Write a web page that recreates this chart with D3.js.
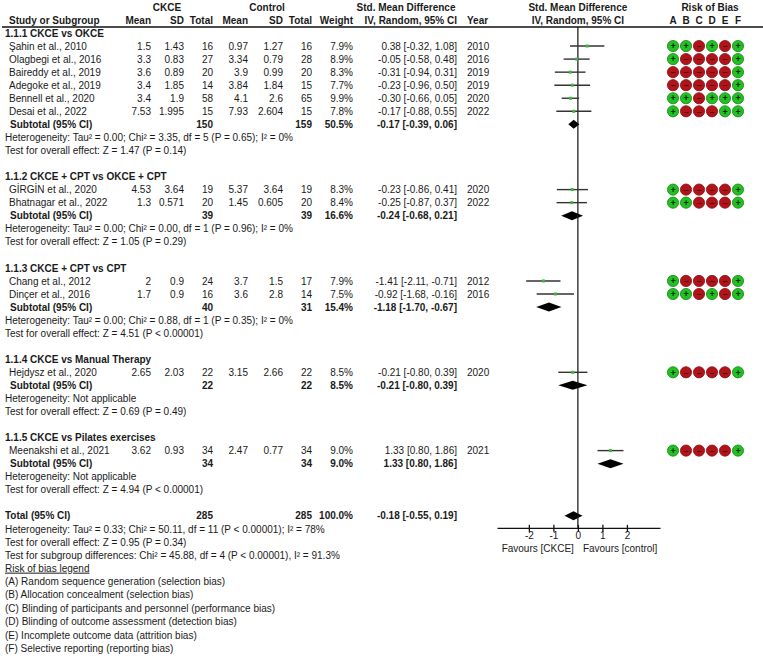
<!DOCTYPE html>
<html>
<head>
<meta charset="utf-8">
<script src="https://cdn.jsdelivr.net/npm/d3@7"></script>
<style>
  body { margin: 0; background: #fff; }
  text { font-family: "Liberation Sans", Arial, sans-serif; font-size: 10px; fill: #1a1a1a; }
  .b { font-weight: bold; }
</style>
</head>
<body>
<script>
// data
var groupLabels = ["1.1.1 CKCE vs OKCE", "1.1.2 CKCE + CPT vs OKCE + CPT", "1.1.3 CKCE + CPT vs CPT",
  "1.1.4 CKCE vs Manual Therapy", "1.1.5 CKCE vs Pilates exercises"];
var groupSizes = [6, 2, 2, 1, 1];

var studies = ["Şahin et al., 2010", "Olagbegi et al., 2016", "Baireddy et al., 2019", "Adegoke et al., 2019",
  "Bennell et al., 2020", "Desai et al., 2022", "GİRGİN et al., 2020", "Bhatnagar et al., 2022",
  "Chang et al., 2012", "Dinçer et al., 2016", "Hejdysz et al., 2020", "Meenakshi et al., 2021"];
var ckceMean = [1.5, 3.3, 3.6, 3.4, 3.4, 7.53, 4.53, 1.3, 2, 1.7, 2.65, 3.62];
var ckceSD = [1.43, 0.83, 0.89, 1.85, 1.9, 1.995, 3.64, 0.571, 0.9, 0.9, 2.03, 0.93];
var ckceN = [16, 27, 20, 14, 58, 15, 19, 20, 24, 16, 22, 34];
var ctrlMean = [0.97, 3.34, 3.9, 3.84, 4.1, 7.93, 5.37, 1.45, 3.7, 3.6, 3.15, 2.47];
var ctrlSD = [1.27, 0.79, 0.99, 1.84, 2.6, 2.604, 3.64, 0.605, 1.5, 2.8, 2.66, 0.77];
var ctrlN = [16, 28, 20, 15, 65, 15, 19, 20, 17, 14, 22, 34];
var weights = [7.9, 8.9, 8.3, 7.7, 9.9, 7.8, 8.3, 8.4, 7.9, 7.5, 8.5, 9.0];
var smd = [0.38, -0.05, -0.31, -0.23, -0.30, -0.17, -0.23, -0.25, -1.41, -0.92, -0.21, 1.33];
var ciLow = [-0.32, -0.58, -0.94, -0.96, -0.66, -0.88, -0.86, -0.87, -2.11, -1.68, -0.80, 0.80];
var ciHigh = [1.08, 0.48, 0.31, 0.50, 0.05, 0.55, 0.41, 0.37, -0.71, -0.16, 0.39, 1.86];
var years = [2010, 2016, 2019, 2019, 2020, 2022, 2020, 2022, 2012, 2016, 2020, 2021];
var rob = ["++-+-+", "+----+", "-----+", "-----+", "++-+++", "+---++",
  "+----+", "++---+", "+----+", "++-+-+", "+----+", "+----+"];

var subN1 = [150, 39, 40, 22, 34];
var subN2 = [159, 39, 31, 22, 34];
var subWeight = [50.5, 16.6, 15.4, 8.5, 9.0];
var subSmd = [-0.17, -0.24, -1.18, -0.21, 1.33];
var subLow = [-0.39, -0.68, -1.70, -0.80, 0.80];
var subHigh = [0.06, 0.21, -0.67, 0.39, 1.86];
var hetText = [
  "Heterogeneity: Tau² = 0.00; Chi² = 3.35, df = 5 (P = 0.65); I² = 0%",
  "Heterogeneity: Tau² = 0.00; Chi² = 0.00, df = 1 (P = 0.96); I² = 0%",
  "Heterogeneity: Tau² = 0.00; Chi² = 0.88, df = 1 (P = 0.35); I² = 0%",
  "Heterogeneity: Not applicable",
  "Heterogeneity: Not applicable"];
var testText = [
  "Test for overall effect: Z = 1.47 (P = 0.14)",
  "Test for overall effect: Z = 1.05 (P = 0.29)",
  "Test for overall effect: Z = 4.51 (P < 0.00001)",
  "Test for overall effect: Z = 0.69 (P = 0.49)",
  "Test for overall effect: Z = 4.94 (P < 0.00001)"];

var totalN = [285, 285];
var totalWeight = 100.0;
var totalEst = [-0.18, -0.55, 0.19];
var totalText = [
  "Heterogeneity: Tau² = 0.33; Chi² = 50.11, df = 11 (P < 0.00001); I² = 78%",
  "Test for overall effect: Z = 0.95 (P = 0.34)",
  "Test for subgroup differences: Chi² = 45.88, df = 4 (P < 0.00001), I² = 91.3%"];
var robLetters = ["A", "B", "C", "D", "E", "F"];
var legendText = [
  "(A) Random sequence generation (selection bias)",
  "(B) Allocation concealment (selection bias)",
  "(C) Blinding of participants and personnel (performance bias)",
  "(D) Blinding of outcome assessment (detection bias)",
  "(E) Incomplete outcome data (attrition bias)",
  "(F) Selective reporting (reporting bias)"];
var xTicks = [-2, -1, 0, 1, 2];

// setup
var width = 763, height = 661;
var svg = d3.select('body').append('svg')
  .attr('width', width)
  .attr('height', height);
svg.append('rect').attr('width', width).attr('height', height).attr('fill', '#fff');

// row index -> vertical centre
var rowY = d3.scaleLinear().domain([0, 1]).range([33, 46.05]);
var x = d3.scaleLinear().domain([-3.3, 3.35]).range([497, 660]);
var robX = d3.scaleBand().domain(robLetters).range([666.5, 744.5]);

var col = { mean1: 151, sd1: 184, n1: 213, mean2: 248, sd2: 283, n2: 312, w: 353, ci: 457, year: 467 };

function txt(xp, row, s, anchor, bold) {
  return svg.append('text')
    .attr('x', xp)
    .attr('y', rowY(row) + 3.6)
    .attr('text-anchor', anchor || 'start')
    .attr('class', bold ? 'b' : null)
    .text(s);
}
function fmtCI(e, l, h) {
  return e.toFixed(2) + " [" + l.toFixed(2) + ", " + h.toFixed(2) + "]";
}
function diamond(row, e, l, h) {
  var y = rowY(row);
  svg.append('path')
    .attr('d', 'M' + x(l) + ',' + y + 'L' + x(e) + ',' + (y - 4.5) + 'L' + x(h) + ',' + y + 'L' + x(e) + ',' + (y + 4.5) + 'Z')
    .attr('fill', '#000');
}

// header
svg.append('text').attr('x', 167).attr('y', 11).attr('text-anchor', 'middle').attr('class', 'b').text('CKCE');
svg.append('text').attr('x', 267).attr('y', 11).attr('text-anchor', 'middle').attr('class', 'b').text('Control');
svg.append('text').attr('x', 406).attr('y', 11).attr('text-anchor', 'middle').attr('class', 'b').text('Std. Mean Difference');
svg.append('text').attr('x', x(0)).attr('y', 11).attr('text-anchor', 'middle').attr('class', 'b').text('Std. Mean Difference');
svg.append('text').attr('x', 710).attr('y', 11).attr('text-anchor', 'middle').attr('class', 'b').text('Risk of Bias');

var hy = 23.5;
svg.append('text').attr('x', 9).attr('y', hy).attr('class', 'b').text('Study or Subgroup');
[['Mean', col.mean1], ['SD', col.sd1], ['Total', col.n1], ['Mean', col.mean2], ['SD', col.sd2],
 ['Total', col.n2], ['Weight', col.w], ['IV, Random, 95% CI', col.ci]].forEach(function(h) {
  svg.append('text').attr('x', h[1]).attr('y', hy).attr('text-anchor', 'end').attr('class', 'b').text(h[0]);
});
svg.append('text').attr('x', col.year).attr('y', hy).attr('class', 'b').text('Year');
svg.append('text').attr('x', x(0)).attr('y', hy).attr('text-anchor', 'middle').attr('class', 'b').text('IV, Random, 95% CI');
robLetters.forEach(function(l) {
  svg.append('text').attr('x', robX(l) + robX.bandwidth() / 2).attr('y', hy)
    .attr('text-anchor', 'middle').attr('class', 'b').text(l);
});
svg.append('line').attr('x1', 2).attr('x2', width).attr('y1', 27).attr('y2', 27)
  .attr('stroke', '#111').attr('stroke-width', 1.3);

// body rows
var r = 0, s = 0;
var studyRows = [];
groupLabels.forEach(function(g, gi) {
  txt(5, r, g, 'start', true);
  var first = r + 1;
  for (var k = 0; k < groupSizes[gi]; k++) {
    r++;
    studyRows.push(r);
    txt(9, r, studies[s]);
    txt(col.mean1, r, ckceMean[s], 'end');
    txt(col.sd1, r, ckceSD[s], 'end');
    txt(col.n1, r, ckceN[s], 'end');
    txt(col.mean2, r, ctrlMean[s], 'end');
    txt(col.sd2, r, ctrlSD[s], 'end');
    txt(col.n2, r, ctrlN[s], 'end');
    txt(col.w, r, weights[s].toFixed(1) + '%', 'end');
    txt(col.ci, r, fmtCI(smd[s], ciLow[s], ciHigh[s]), 'end');
    txt(col.year, r, years[s]);
    s++;
  }
  // faint panel behind risk of bias circles
  svg.insert('rect', ':first-child').attr('x', 662).attr('y', rowY(first) - 9)
    .attr('width', 86).attr('height', rowY(r) - rowY(first) + 18).attr('fill', '#f6f6f6');
  svg.insert('rect', ':first-child').attr('width', width).attr('height', height).attr('fill', '#fff');
  r++;
  txt(10, r, 'Subtotal (95% CI)', 'start', true);
  txt(col.n1, r, subN1[gi], 'end', true);
  txt(col.n2, r, subN2[gi], 'end', true);
  txt(col.w, r, subWeight[gi].toFixed(1) + '%', 'end', true);
  txt(col.ci, r, fmtCI(subSmd[gi], subLow[gi], subHigh[gi]), 'end', true);
  diamond(r, subSmd[gi], subLow[gi], subHigh[gi]);
  r++;
  txt(5, r, hetText[gi]);
  r++;
  txt(5, r, testText[gi]);
  r += 2;
});

// total
txt(5, r, 'Total (95% CI)', 'start', true);
txt(col.n1, r, totalN[0], 'end', true);
txt(col.n2, r, totalN[1], 'end', true);
txt(col.w, r, totalWeight.toFixed(1) + '%', 'end', true);
txt(col.ci, r, fmtCI(totalEst[0], totalEst[1], totalEst[2]), 'end', true);
diamond(r, totalEst[0], totalEst[1], totalEst[2]);
var axisY = rowY(r) + 12;
totalText.forEach(function(t, i) { txt(5, r + 1 + i, t); });
var legY = rowY(r + 4) + 3.6;
svg.append('text').attr('x', 5).attr('y', legY).attr('text-decoration', 'underline').text('Risk of bias legend');
legendText.forEach(function(t, i) {
  svg.append('text').attr('x', 5).attr('y', legY + 13.4 * (i + 1)).text(t);
});

// forest marks
svg.append('line').attr('x1', x(0)).attr('x2', x(0)).attr('y1', 27).attr('y2', axisY)
  .attr('stroke', '#111').attr('stroke-width', 1.2);

svg.selectAll('.ci').data(smd).enter().append('line')
  .attr('class', 'ci')
  .attr('x1', function(d, i) { return x(ciLow[i]); })
  .attr('x2', function(d, i) { return x(ciHigh[i]); })
  .attr('y1', function(d, i) { return rowY(studyRows[i]); })
  .attr('y2', function(d, i) { return rowY(studyRows[i]); })
  .attr('stroke', '#333').attr('stroke-width', 1.4);

svg.selectAll('.pt').data(smd).enter().append('rect')
  .attr('class', 'pt')
  .attr('x', function(d) { return x(d) - 1.5; })
  .attr('y', function(d, i) { return rowY(studyRows[i]) - 1.5; })
  .attr('width', 3).attr('height', 3)
  .attr('fill', '#3cb43c');

// axis
var axis = d3.axisBottom(x).tickValues(xTicks).tickSizeOuter(0).tickSizeInner(4).tickPadding(0)
  .tickFormat(d3.format('d'));
var ax = svg.append('g')
  .attr('transform', 'translate(0,' + axisY + ')')
  .call(axis);
ax.select('.domain').attr('stroke', '#111').attr('stroke-width', 1.3);
ax.selectAll('.tick line').attr('y1', -3).attr('y2', 4).attr('stroke', '#111').attr('stroke-width', 1.3);
ax.selectAll('.tick text').attr('font-family', '"Liberation Sans", Arial, sans-serif').attr('font-size', 10)
  .attr('y', 4).attr('fill', '#1a1a1a').text(function(d) { return d < 0 ? '-' + Math.abs(d) : d; });
svg.append('text').attr('x', x(0) - 4).attr('y', axisY + 24).attr('text-anchor', 'end').text('Favours [CKCE]');
svg.append('text').attr('x', x(0) + 5).attr('y', axisY + 24).text('Favours [control]');

// risk of bias circles
var cells = [];
rob.forEach(function(code, i) {
  code.split('').forEach(function(c, j) { cells.push({ row: studyRows[i], l: robLetters[j], v: c }); });
});
var cg = svg.selectAll('.rob').data(cells).enter().append('g')
  .attr('class', 'rob')
  .attr('transform', function(d) { return 'translate(' + (robX(d.l) + robX.bandwidth() / 2) + ',' + rowY(d.row) + ')'; });
cg.append('circle').attr('r', 5.6)
  .attr('fill', function(d) { return d.v === '+' ? '#22c022' : '#b0141a'; })
  .attr('stroke', function(d) { return d.v === '+' ? '#128812' : '#8a0c10'; })
  .attr('stroke-width', 0.8);
cg.append('text').attr('text-anchor', 'middle').attr('y', 3.2)
  .style('font-size', '9px').style('font-weight', 'bold')
  .style('fill', function(d) { return d.v === '+' ? '#0b2b0b' : '#5a0a0a'; })
  .text(function(d) { return d.v === '+' ? '+' : '–'; });
</script>
</body>
</html>
